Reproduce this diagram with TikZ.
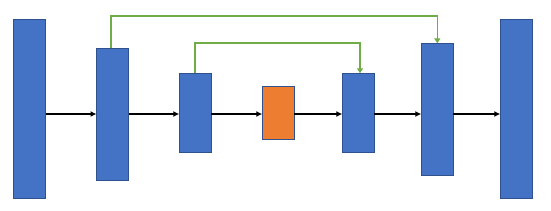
\documentclass[tikz,border=0pt]{standalone}
\usetikzlibrary{arrows.meta}
\definecolor{blk}{HTML}{4472C4}
\definecolor{bdr}{HTML}{2F528F}
\definecolor{org}{HTML}{ED7D31}
\definecolor{grn}{HTML}{70AD47}
\begin{document}
\begin{tikzpicture}[x=1pt,y=-1pt,
  layer/.style={draw=bdr, line width=0.8pt, fill=blk, inner sep=0pt, outer sep=0pt, minimum width=32pt},
  mid/.style={layer, fill=org},
  flow/.style={line width=1.7pt, -{Latex[length=6pt,width=6pt]}},
  skip/.style={grn, line width=1.6pt, -{Triangle[length=5pt,width=6pt]}}]
\useasboundingbox (0,0) rectangle (551,210);
\node[layer, minimum height=179pt] (a) at (29.5,108.8) {};
\node[layer, minimum height=132pt] (b) at (112.5,114.3) {};
\node[layer, minimum height=79pt] (c) at (195.3,112.8) {};
\node[mid, minimum height=53pt] (d) at (278.3,112.8) {};
\node[layer, minimum height=79pt] (e) at (358.3,112.8) {};
\node[layer, minimum height=132pt] (f) at (437.3,109.3) {};
\node[layer, minimum height=179pt] (g) at (516.3,108.8) {};
\coordinate (m) at (0,114);
\coordinate (top1) at (0,15.7);
\coordinate (top2) at (0,42.7);
\draw[flow] (a.east |- m) -- (b.west |- m);
\draw[flow] (b.east |- m) -- (c.west |- m);
\draw[flow] (c.east |- m) -- (d.west |- m);
\draw[flow] (d.east |- m) -- (e.west |- m);
\draw[flow] (e.east |- m) -- (f.west |- m);
\draw[flow] (f.east |- m) -- (g.west |- m);
\draw[skip] ([xshift=-1.5pt]b.north) -- ([xshift=-1.5pt]b.north |- top1) -| (f.north);
\draw[skip] ([xshift=-0.6pt]c.north) -- ([xshift=-0.6pt]c.north |- top2) -| ([xshift=1.7pt]e.north);
\end{tikzpicture}
\end{document}
